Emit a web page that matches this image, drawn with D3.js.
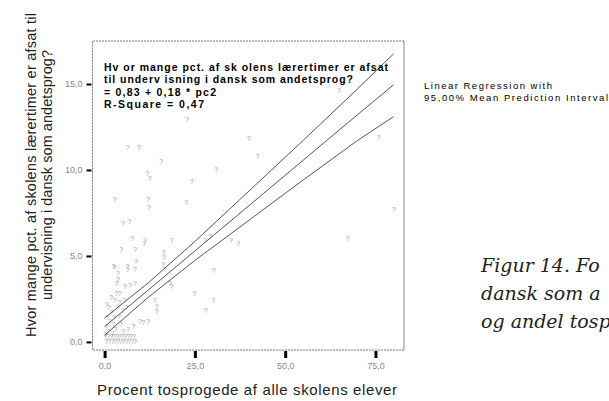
<!DOCTYPE html>
<html>
<head>
<meta charset="utf-8">
<script src="https://cdn.jsdelivr.net/npm/d3@7"></script>
<style>
  body { margin: 0; background: #fff; }
  svg { display: block; }
</style>
</head>
<body>
<svg width="609" height="401"></svg>
<script>
// tick values
const xTicks = [0, 25, 50, 75];
const yTicks = [0, 5, 10, 15];

// schools: share of bilingual pupils (x) vs. pct. of teacher hours for Danish as 2nd language (y)
const pointsX = [64.9, 22.9, 39.9, 75.9, 6.4, 9.5, 15.6, 42.3, 11.8, 12.5, 30.9, 24.1, 2.8, 12.1, 12.2, 22.6, 80.1,
  5.1, 6.9, 7.6, 11.2, 11.0, 18.5, 27.8, 29.2, 35.0, 37.0, 67.3, 4.6, 8.5, 16.3, 16.4, 8.7, 2.4, 2.8, 3.7, 6.3, 6.4,
  8.4, 16.2, 16.7, 30.2, 3.7, 3.3, 5.6, 7.0, 8.4, 18.1, 18.5, 24.8, 30.1, 3.3, 4.2, 2.8, 4.2, 5.6, 13.9, 14.4, 14.4,
  28.0, 9.8, 10.7, 12.1, 7.9, 5.1, 6.5,
  1.2, 2.0, 0.8, 1.5, 2.5, 0.5, 3.0, 1.0, 2.2, 0.3, 4.0, 3.5, 5.0, 6.0, 4.5, 1.8, 0.6, 2.6,
  0.2, 1.0, 1.8, 2.6, 3.4, 4.2, 5.0, 5.8, 6.6, 7.4, 8.2,
  0.5, 1.3, 2.1, 2.9, 3.7, 4.5, 5.3, 6.1, 6.9, 7.7, 8.5];
const pointsY = [14.6, 12.95, 11.8, 11.9, 11.3, 11.3, 10.5, 10.8, 9.8, 9.5, 10.0, 9.3, 8.3, 8.3, 7.8, 8.1, 7.7,
  6.9, 7.0, 6.0, 5.9, 5.7, 5.9, 5.9, 6.1, 5.9, 5.7, 6.0, 5.4, 5.4, 5.2, 4.9, 4.7, 4.4, 4.3, 4.0, 4.4, 4.2,
  4.2, 4.5, 4.2, 4.15, 3.6, 3.4, 3.2, 3.3, 3.4, 3.4, 3.2, 2.8, 2.4, 2.8, 2.8, 2.4, 2.3, 2.4, 2.4, 2.05, 1.76,
  1.8, 1.2, 1.1, 1.2, 0.9, 0.6, 0.7,
  2.0, 1.7, 1.4, 1.2, 1.0, 0.9, 0.7, 0.6, 0.5, 0.4, 1.5, 2.0, 1.8, 2.0, 1.0, 2.6, 2.2, 1.4,
  0.3, 0.3, 0.3, 0.3, 0.3, 0.3, 0.3, 0.3, 0.3, 0.3, 0.3,
  0.05, 0.05, 0.05, 0.05, 0.05, 0.05, 0.05, 0.05, 0.05, 0.05, 0.05];

// regression line and 95% mean prediction interval
const lineX = [0, 12, 25, 40, 55, 70, 80];
const fitY = [0.89, 3.0, 5.29, 7.93, 10.57, 13.21, 14.95];
const upperY = [1.39, 3.42, 5.84, 8.78, 11.72, 14.71, 16.75];
const lowerY = [0.39, 2.58, 4.74, 7.08, 9.42, 11.71, 13.1];

const infoLines = ['Hv or mange pct. af sk olens lærertimer er afsat',
  'til underv isning i dansk som andetsprog?',
  '= 0,83 + 0,18 * pc2',
  'R-Square = 0,47'];
const infoWidths = [284, 249, 112, 100];
const legendLines = ['Linear Regression with', '95,00% Mean Prediction Interval'];
const legendWidths = [128, 184];
const captionLines = ['Figur 14. Fo', 'dansk som a', 'og andel tosp'];
const yTitle = ['Hvor mange pct. af skolens lærertimer er afsat til', 'undervisning i dansk som andetsprog?'];
const yTitleWidths = [324, 250];
const xTitle = 'Procent tosprogede af alle skolens elever';

const svg = d3.select('svg');
const fLeft = 92.5, fRight = 404, fTop = 41, fBottom = 350;

const x = d3.scaleLinear().domain([-3.35, 82.9]).range([fLeft, fRight]);
const y = d3.scaleLinear().domain([-0.47, 17.5]).range([fBottom, fTop]);
const fmt = v => d3.format('.1f')(v).replace('.', ',');

// frame: dotted on three sides, solid right edge
const frame = svg.append('g').attr('stroke', '#777').attr('fill', 'none');
frame.append('path').attr('d', `M${fRight},${fTop}H${fLeft}V${fBottom}H${fRight}`)
  .attr('stroke-dasharray', '2,1');
frame.append('line').attr('x1', fRight).attr('x2', fRight).attr('y1', fTop).attr('y2', fBottom)
  .attr('stroke', '#888');

// axes
const yAxis = svg.append('g')
  .attr('transform', `translate(${fLeft - 1},0)`)
  .call(d3.axisLeft(y).tickValues(yTicks).tickSize(5).tickPadding(4).tickFormat(fmt));
const xAxis = svg.append('g')
  .attr('transform', `translate(0,${fBottom + 1})`)
  .call(d3.axisBottom(x).tickValues(xTicks).tickSize(7).tickPadding(5).tickFormat(fmt));

[yAxis, xAxis].forEach(g => {
  g.select('.domain').remove();
  g.selectAll('text').attr('fill', '#888').style('font', '9px "Liberation Sans", Arial, sans-serif');
});
yAxis.selectAll('line').attr('stroke', '#000').attr('stroke-width', 2);
xAxis.selectAll('line').attr('stroke', '#000').attr('stroke-width', 3);

// points (markers rendered as "?")
svg.append('g')
  .selectAll('text')
  .data(d3.range(pointsX.length))
  .enter()
  .append('text')
    .attr('x', i => x(pointsX[i]))
    .attr('y', i => y(pointsY[i]))
    .attr('dy', '0.35em')
    .attr('text-anchor', 'middle')
    .attr('fill', '#999')
    .style('font', '7px "Liberation Sans", Arial, sans-serif')
    .text('?');

// fit + interval lines
const line = d3.line().x(d => x(d[0])).y(d => y(d[1]));
[fitY, upperY, lowerY].forEach(series => {
  svg.append('path')
    .datum(lineX.map((v, i) => [v, series[i]]))
    .attr('d', line)
    .attr('fill', 'none')
    .attr('stroke', '#555')
    .attr('stroke-width', 1);
});

// text inside the frame
svg.append('g')
  .selectAll('text')
  .data(infoLines)
  .enter()
  .append('text')
    .attr('x', 104)
    .attr('y', (d, i) => 71 + i * 12.3)
    .attr('textLength', (d, i) => infoWidths[i])
    .attr('lengthAdjust', 'spacing')
    .style('font', 'bold 10.5px "Liberation Sans", Arial, sans-serif')
    .attr('fill', '#000')
    .text(d => d);

// legend text
svg.append('g')
  .selectAll('text')
  .data(legendLines)
  .enter()
  .append('text')
    .attr('x', 424)
    .attr('y', (d, i) => 89 + i * 12)
    .attr('textLength', (d, i) => legendWidths[i])
    .attr('lengthAdjust', 'spacing')
    .style('font', '9.5px "Liberation Sans", Arial, sans-serif')
    .attr('fill', '#000')
    .text(d => d);

// caption (cut off at the right edge)
svg.append('g')
  .selectAll('text')
  .data(captionLines)
  .enter()
  .append('text')
    .attr('x', 481)
    .attr('y', (d, i) => 272 + i * 28)
    .style('font', 'italic 19px "DejaVu Serif", serif')
    .attr('fill', '#222')
    .text(d => d);

// axis titles
svg.append('g')
  .selectAll('text')
  .data(yTitle)
  .enter()
  .append('text')
    .attr('transform', (d, i) => `translate(${36 + i * 16},175)rotate(-90)`)
    .attr('text-anchor', 'middle')
    .attr('textLength', (d, i) => yTitleWidths[i])
    .attr('lengthAdjust', 'spacing')
    .style('font', '14.5px "Liberation Sans", Arial, sans-serif')
    .attr('fill', '#222')
    .text(d => d);

svg.append('text')
  .attr('x', 247)
  .attr('y', 395)
  .attr('text-anchor', 'middle')
  .attr('textLength', 300)
  .attr('lengthAdjust', 'spacing')
  .style('font', '15px "Liberation Sans", Arial, sans-serif')
  .attr('fill', '#222')
  .text(xTitle);
</script>
</body>
</html>
